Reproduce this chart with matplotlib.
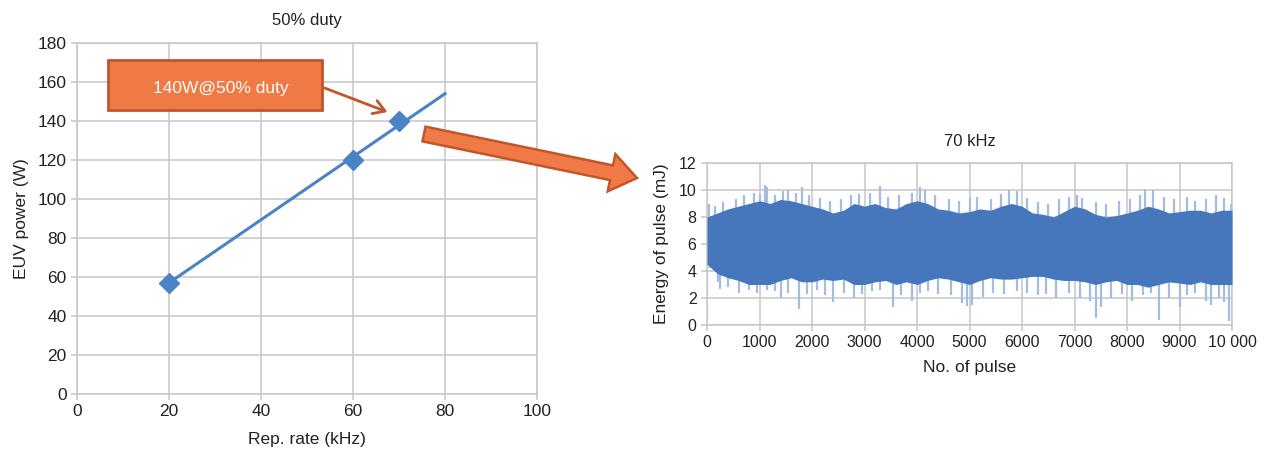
import numpy as np
import matplotlib
matplotlib.use("Agg")
import matplotlib.pyplot as plt
from matplotlib.patches import Polygon, FancyBboxPatch, FancyArrowPatch

plt.rcParams['font.family'] = ['Liberation Sans', 'DejaVu Sans']

# ---------------- data ----------------
# left: EUV power vs rep. rate
rep_rate = [20, 60, 70]
euv_power = [57, 120, 140]
fit_x = [20, 80]          # trend line ends, as drawn
fit_y = [57, 154]

# right: pulse energy trace at 70 kHz (envelope)
pulse_pos = list(range(0, 10001, 200))
core_hi = [8.0, 8.3, 8.6, 8.8, 9.0, 9.2, 9.0, 9.3, 9.2, 9.0,
           8.8, 8.6, 8.3, 8.5, 9.0, 8.8, 9.0, 8.7, 8.6, 9.0,
           9.2, 9.0, 8.6, 8.5, 8.3, 8.4, 8.6, 8.5, 8.8, 9.0,
           8.8, 8.3, 8.2, 8.0, 8.4, 8.8, 8.6, 8.2, 8.0, 8.1,
           8.3, 8.5, 8.8, 8.6, 8.3, 8.4, 8.5, 8.5, 8.3, 8.5, 8.5]
core_lo = [4.5, 3.8, 3.5, 3.3, 3.0, 3.0, 3.0, 3.3, 3.5, 3.2,
           3.2, 3.4, 3.3, 3.4, 3.0, 3.0, 3.2, 3.3, 3.0, 3.2,
           3.0, 3.3, 3.5, 3.4, 3.2, 3.0, 3.3, 3.5, 3.4, 3.4,
           3.5, 3.6, 3.6, 3.4, 3.3, 3.3, 3.2, 3.0, 3.2, 3.3,
           3.0, 3.0, 2.8, 3.0, 3.2, 3.1, 3.0, 3.2, 3.0, 3.0, 3.0]
spike_up_x = [30, 150, 300, 550, 700, 900, 1000, 1100, 1150, 1300, 1450, 1550, 1700,
              1800, 1950, 2150, 2350, 2550, 2750, 2900, 3100, 3300, 3450, 3650, 3900,
              4050, 4150, 4350, 4600, 4800, 5000, 5150, 5400, 5600, 5750, 5900, 6100,
              6300, 6500, 6700, 6900, 7050, 7150, 7400, 7600, 7850, 8050, 8250, 8350,
              8500, 8700, 8900, 9150, 9300, 9500, 9700, 9850, 9980]
spike_up_y = [9.0, 8.8, 9.1, 9.3, 9.6, 9.8, 9.7, 10.4, 10.2, 9.6, 9.9, 10.0, 9.8,
              10.2, 9.6, 9.4, 9.2, 9.3, 9.6, 9.7, 9.8, 10.3, 9.5, 9.6, 9.8,
              10.2, 10.0, 9.6, 9.3, 9.2, 9.4, 9.5, 9.3, 9.7, 10.0, 9.9, 9.4,
              9.1, 9.0, 9.3, 9.5, 9.6, 9.4, 9.1, 9.0, 9.2, 9.3, 9.6, 10.1,
              10.0, 9.5, 9.3, 9.5, 9.2, 9.3, 9.6, 9.4, 9.0]
spike_dn_x = [50, 200, 250, 400, 600, 800, 950, 1150, 1300, 1400, 1550, 1750, 1900,
              2100, 2250, 2400, 2600, 2800, 2950, 3150, 3300, 3550, 3700, 3900, 4050,
              4200, 4400, 4650, 4850, 4950, 5050, 5250, 5450, 5650, 5900, 6100, 6300,
              6450, 6650, 6900, 7100, 7300, 7400, 7500, 7700, 7900, 8100, 8300, 8450,
              8600, 8800, 9000, 9150, 9300, 9500, 9600, 9750, 9850, 9950]
spike_dn_y = [4.2, 3.2, 2.7, 2.8, 2.4, 2.6, 2.4, 2.6, 2.5, 2.0, 2.4, 1.2, 2.3,
              2.6, 2.2, 1.7, 2.4, 2.0, 2.3, 2.5, 2.6, 1.3, 2.2, 1.8, 2.4,
              2.5, 2.3, 2.2, 1.6, 1.4, 1.5, 2.1, 2.4, 2.3, 2.5, 2.4, 2.2,
              2.3, 2.0, 2.4, 2.0, 1.8, 0.5, 1.3, 2.0, 2.3, 1.8, 2.2, 2.4,
              0.4, 2.0, 1.3, 2.2, 2.4, 1.8, 1.5, 2.0, 1.7, 0.3]

W, H = 1267, 455
GRID = '#C6C6C6'
BLUE = '#4A84C6'
DARK = '#4677BC'
LIGHT = '#A3BDE0'
ORANGE = '#F07A45'
ORANGE_EDGE = '#C2562A'


def fig_xy(x, y):
    # pixel position (from top-left) -> figure fraction
    return x / W, 1 - y / H


def style_axes(ax):
    ax.grid(True, color=GRID, linewidth=1.1)
    ax.set_axisbelow(True)
    for s in ax.spines.values():
        s.set_color(GRID)
        s.set_linewidth(1.1)
    ax.tick_params(colors=GRID, labelcolor='#222222', length=4, width=1.1)


fig = plt.figure(figsize=(W / 100, H / 100), dpi=100)

# ---------------- left chart ----------------
ax1 = fig.add_axes([77 / W, 1 - 394 / H, 460 / W, 351 / H])
style_axes(ax1)
ax1.plot(fit_x, fit_y, color=BLUE, linewidth=2.2, zorder=3)
ax1.plot(rep_rate, euv_power, linestyle='none', marker='D', markersize=10,
         color=BLUE, zorder=4)
ax1.set_xlim(0, 100)
ax1.set_ylim(0, 180)
ax1.set_xticks(range(0, 101, 20))
ax1.set_yticks(range(0, 181, 20))
ax1.tick_params(labelsize=12.5)
ax1.set_xlabel('Rep. rate (kHz)', fontsize=12.5, color='#222222', labelpad=9)
ax1.set_ylabel('EUV power (W)', fontsize=12.5, color='#222222', labelpad=6)
ax1.set_title('50% duty', fontsize=12, color='#222222', pad=13)

# ---------------- right chart ----------------
ax2 = fig.add_axes([707 / W, 1 - 325 / H, 525 / W, 162 / H])
style_axes(ax2)
ax2.vlines(spike_up_x, np.interp(spike_up_x, pulse_pos, core_hi) - 0.3, spike_up_y,
           color=LIGHT, linewidth=1.6, zorder=2)
ax2.vlines(spike_dn_x, spike_dn_y, np.interp(spike_dn_x, pulse_pos, core_lo) + 0.3,
           color=LIGHT, linewidth=1.6, zorder=2)
ax2.fill_between(pulse_pos, core_lo, core_hi, color=DARK, linewidth=0, zorder=3)
ax2.set_xlim(0, 10000)
ax2.set_ylim(0, 12)
ax2.set_xticks(range(0, 10001, 1000))
ax2.set_xticklabels([str(v) for v in range(0, 10000, 1000)] + ['10 000'])
ax2.set_yticks(range(0, 13, 2))
ax2.tick_params(labelsize=11.5)
ax2.set_xlabel('No. of pulse', fontsize=12.5, color='#222222', labelpad=7)
ax2.set_ylabel('Energy of pulse (mJ)', fontsize=12.5, color='#222222', labelpad=7)
ax2.set_title('70 kHz', fontsize=12, color='#222222', pad=12)

# ---------------- callout box + arrows ----------------
bx0, by0 = fig_xy(108, 110)
bx1, by1 = fig_xy(322, 60)
box = FancyBboxPatch((bx0, by0), bx1 - bx0, by1 - by0, boxstyle='square,pad=0',
                     transform=fig.transFigure, facecolor=ORANGE,
                     edgecolor=ORANGE_EDGE, linewidth=2, zorder=10)
fig.add_artist(box)
tx, ty = fig_xy(221, 88)
fig.text(tx, ty, '140W@50% duty', color='white', fontsize=12.5,
         ha='center', va='center', zorder=11)

fig.add_artist(FancyArrowPatch(
    fig_xy(322, 87), fig_xy(390, 113), transform=fig.transFigure,
    arrowstyle='->,head_length=8,head_width=5', color=ORANGE_EDGE,
    linewidth=2, mutation_scale=1, zorder=10))

# big block arrow, built in pixel space
p0 = np.array([424.0, 134.0])
p1 = np.array([637.0, 178.0])
u = (p1 - p0) / np.linalg.norm(p1 - p0)
n = np.array([-u[1], u[0]])
body_w, head_w, head_l = 15.0, 38.0, 26.0
hb = p1 - u * head_l
pts = [p0 + n * body_w / 2, hb + n * body_w / 2, hb + n * head_w / 2, p1,
       hb - n * head_w / 2, hb - n * body_w / 2, p0 - n * body_w / 2]
big = Polygon([fig_xy(*p) for p in pts], closed=True, transform=fig.transFigure,
              facecolor=ORANGE, edgecolor=ORANGE_EDGE, linewidth=1.8, zorder=10)
fig.add_artist(big)

fig.savefig('out.png', dpi=100)
